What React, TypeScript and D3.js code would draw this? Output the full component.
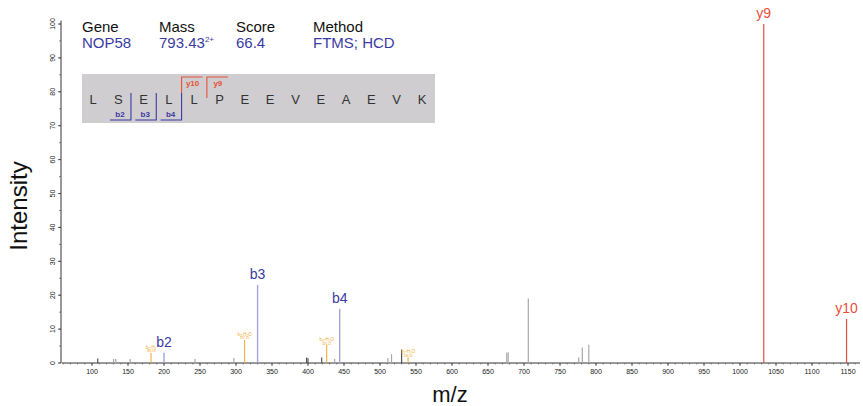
import * as d3 from "d3";

// spectrum peaks
const otherMz = [108, 130, 133, 153, 243, 297, 398, 400, 419, 437, 511, 516, 530, 676, 678, 706, 776, 781, 790];
const otherInt = [1.3, 1.2, 1.2, 1.2, 1.2, 1.5, 1.6, 1.4, 1.6, 1.2, 1.5, 2.6, 4.0, 3.0, 3.2, 19, 1.6, 4.6, 5.4];
const otherDark = [true, false, false, false, false, false, true, true, true, false, false, false, true, false, false, false, false, false, false];

const bMz = [200, 330, 444];
const bInt = [3, 23, 16];
const bLabels = ["b2", "b3", "b4"];

const yMz = [1033, 1148];
const yInt = [100, 13];
const yLabels = ["y9", "y10"];

const lossMz = [182, 312, 426, 539];
const lossInt = [3, 6.8, 5.3, 1.7];
const lossNames = ["b₂-H₂", "b₃-H₂O", "b₄-H₂O", "b₅-H₂O"];
const lossValues = ["184.09", "312.15", "426.22", "539.30"];

const sequence = ["L", "S", "E", "L", "L", "P", "E", "E", "V", "E", "A", "E", "V", "K"];
const bCuts = [2, 3, 4];
const yCuts = [{ label: "y10", after: 4 }, { label: "y9", after: 5 }];

const xTicks = d3.range(100, 1151, 50);
const xMinor = d3.range(60, 1161, 10);
const yTicks = d3.range(0, 101, 10);
const yMinor = d3.range(0, 101, 5);

const FONT = "'Liberation Sans', Arial, Helvetica, sans-serif";
const BLUE = "#3b3ba3";
const BLUE_LINE = "#a4a4dc";
const RED = "#e8503a";
const ORANGE = "#f0a828";

export default function App() {
  const width = 863;
  const height = 406;
  const x = d3.scaleLinear().domain([100, 1150]).range([92, 848]);
  const y = d3.scaleLinear().domain([0, 100]).range([363, 24]);
  const axisLeft = 61;
  const x0 = 62;
  const x1 = 860;

  const seqX = d3.scaleLinear().domain([0, 13]).range([93, 422]);
  const boxTop = 74;
  const boxBottom = 123;

  return (
    <svg width={width} height={height} style={{ position: "absolute", left: 0, top: 0, background: "#fff" }} fontFamily={FONT}>
      {/* axes */}
      <line x1={x0} x2={x1} y1={y(0)} y2={y(0)} stroke="#333" strokeWidth={1} />
      <line x1={axisLeft} x2={axisLeft} y1={y(0)} y2={y(101)} stroke="#333" strokeWidth={1} />
      {xMinor.map((t) => (
        <line key={"xm" + t} x1={x(t)} x2={x(t)} y1={y(0)} y2={y(0) + 1.5} stroke="#444" strokeWidth={0.6} />
      ))}
      {xTicks.map((t) => (
        <g key={"xt" + t}>
          <line x1={x(t)} x2={x(t)} y1={y(0)} y2={y(0) + 3} stroke="#333" strokeWidth={0.8} />
          <text x={x(t)} y={y(0) + 11} fontSize={7} textAnchor="middle" fill="#222">{t}</text>
        </g>
      ))}
      {yMinor.map((t) => (
        <line key={"ym" + t} x1={axisLeft - 2} x2={axisLeft} y1={y(t)} y2={y(t)} stroke="#444" strokeWidth={0.6} />
      ))}
      {yTicks.map((t) => (
        <g key={"yt" + t}>
          <line x1={axisLeft - 3} x2={axisLeft} y1={y(t)} y2={y(t)} stroke="#333" strokeWidth={0.8} />
          <text transform={`translate(${axisLeft - 6},${y(t)}) rotate(-90)`} fontSize={7} textAnchor="middle" fill="#222">{t}</text>
        </g>
      ))}
      <text transform={`translate(27,206) rotate(-90)`} fontSize={24} textAnchor="middle" fill="#111">Intensity</text>
      <text x={450} y={402} fontSize={22} textAnchor="middle" fill="#111">m/z</text>

      {/* unassigned peaks */}
      {otherMz.map((m, i) => (
        <line key={"o" + i} x1={x(m)} x2={x(m)} y1={y(0)} y2={y(otherInt[i])}
          stroke={otherDark[i] ? "#555" : "#a8a8a8"} strokeWidth={1.2} />
      ))}
      {/* neutral loss peaks */}
      {lossMz.map((m, i) => (
        <g key={"l" + i}>
          <line x1={x(m)} x2={x(m)} y1={y(0)} y2={y(lossInt[i])} stroke={ORANGE} strokeWidth={1} />
          <text x={x(m)} y={y(lossInt[i]) - 4} fontSize={4.5} textAnchor="middle" fill={ORANGE}>{lossNames[i]}</text>
          <text x={x(m)} y={y(lossInt[i]) - 0.5} fontSize={3} textAnchor="middle" fill={ORANGE}>{lossValues[i]}</text>
        </g>
      ))}
      {/* b ions */}
      {bMz.map((m, i) => (
        <g key={"b" + i}>
          <line x1={x(m)} x2={x(m)} y1={y(0)} y2={y(bInt[i])} stroke={BLUE_LINE} strokeWidth={1.4} />
          <text x={x(m)} y={y(bInt[i]) - 6} fontSize={14} textAnchor="middle" fill={BLUE}>{bLabels[i]}</text>
        </g>
      ))}
      {/* y ions */}
      {yMz.map((m, i) => (
        <g key={"y" + i}>
          <line x1={x(m)} x2={x(m)} y1={y(0)} y2={y(yInt[i])} stroke={RED} strokeWidth={1.2} />
          <text x={x(m)} y={y(yInt[i]) - 6} fontSize={14} textAnchor="middle" fill={RED}>{yLabels[i]}</text>
        </g>
      ))}

      {/* header */}
      <g fontSize={15}>
        <text x={82} y={32} fill="#111">Gene</text>
        <text x={82} y={48} fill={BLUE}>NOP58</text>
        <text x={159} y={32} fill="#111">Mass</text>
        <text x={159} y={48} fill={BLUE}>793.43<tspan fontSize={8} dy={-6}>2+</tspan></text>
        <text x={236} y={32} fill="#111">Score</text>
        <text x={236} y={48} fill={BLUE}>66.4</text>
        <text x={313} y={32} fill="#111">Method</text>
        <text x={313} y={48} fill={BLUE}>FTMS; HCD</text>
      </g>

      {/* sequence box */}
      <rect x={82} y={boxTop} width={353} height={boxBottom - boxTop} fill="#cfcdcf" />
      {sequence.map((aa, i) => (
        <text key={"s" + i} x={seqX(i)} y={104} fontSize={13} textAnchor="middle" fill="#333">{aa}</text>
      ))}
      {bCuts.map((n) => {
        const cx = (seqX(n - 1) + seqX(n)) / 2;
        return (
          <g key={"bc" + n}>
            <path d={`M${cx},93 V120 H${cx - 21}`} fill="none" stroke={BLUE} strokeWidth={1.1} />
            <text x={cx - 11} y={117} fontSize={8} textAnchor="middle" fill={BLUE} fontWeight="bold">b{n}</text>
          </g>
        );
      })}
      {yCuts.map((c) => {
        const cx = (seqX(c.after - 1) + seqX(c.after)) / 2;
        return (
          <g key={"yc" + c.label}>
            <path d={`M${cx},${c.after === 4 ? 93 : 98} V77 H${cx + 21}`} fill="none" stroke={RED} strokeWidth={1.1} />
            <text x={cx + 11} y={86} fontSize={8} textAnchor="middle" fill={RED} fontWeight="bold">{c.label}</text>
          </g>
        );
      })}
    </svg>
  );
}
